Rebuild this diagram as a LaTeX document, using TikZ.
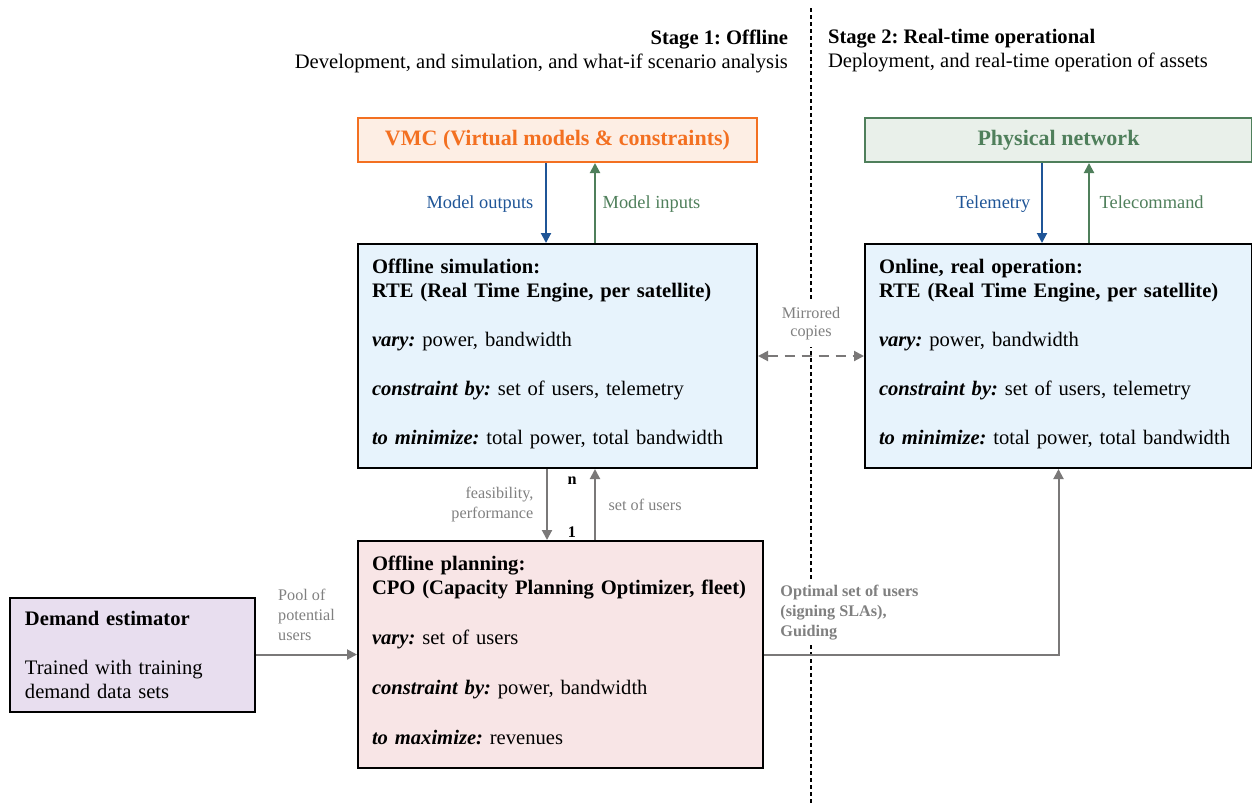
\documentclass[tikz,border=0pt]{standalone}
\usepackage{fontspec}
\setmainfont{Liberation Serif}
\usetikzlibrary{positioning,arrows.meta}
\frenchspacing

\definecolor{vmcorange}{HTML}{F37021}
\definecolor{vmcfill}{HTML}{FDEEE4}
\definecolor{netgreen}{HTML}{4F7F5B}
\definecolor{netfill}{HTML}{E9F0EA}
\definecolor{tmblue}{HTML}{1F5597}
\definecolor{simfill}{HTML}{E7F3FC}
\definecolor{planfill}{HTML}{F8E5E6}
\definecolor{demfill}{HTML}{E8DEEF}
\definecolor{flowgray}{HTML}{7A7878}
\definecolor{lblgray}{HTML}{808080}

\newcommand{\kw}[1]{{\bfseries\itshape #1}}

\begin{document}
\begin{tikzpicture}[x=0.5pt, y=-0.5pt,
    every node/.style={font=\fontsize{10.3}{12}\selectfont},
    box/.style={draw, line width=1pt, align=left, inner xsep=7pt, inner ysep=0pt, anchor=north west},
    head/.style={draw, line width=1pt, minimum height=22pt, anchor=north west,
                 font=\fontsize{11}{13}\selectfont\bfseries},
    flow/.style={line width=1pt, -{Triangle[length=5pt,width=5pt]}},
    lbl/.style={font=\fontsize{9.2}{11}\selectfont, text height=1.5ex, text depth=.3ex},
    small/.style={font=\fontsize{8.1}{10}\selectfont, text=lblgray},
    tri/.tip={Triangle[length=5pt,width=5pt]}
  ]
  \useasboundingbox (0,0) rectangle (1252,805);

  % stage divider
  \coordinate (divtop) at (811,8);
  \coordinate (divbot) at (811,805);
  \draw[line width=0.7pt, dash pattern=on 2pt off 1.5pt] (divtop) -- (divbot);

  \node[align=right, anchor=east] (st1) at (795,51)
    {\textbf{Stage 1: Offline}\\Development, and simulation, and what-if scenario analysis};
  \node[align=left, anchor=west] (st2) at (821,51)
    {\textbf{Stage 2: Real-time operational}\\Deployment, and real-time operation of assets};

  % top boxes
  \node[head, draw=vmcorange, fill=vmcfill, text=vmcorange, minimum width=199.5pt]
    (vmc) at (357,117) {VMC (Virtual models \& constraints)};
  \node[head, draw=netgreen, fill=netfill, text=netgreen, minimum width=193.5pt]
    (net) at (864,117) {Physical network};

  % engines
  \node[box, fill=simfill, minimum width=199.5pt, text width=185.5pt, minimum height=112pt,
        text depth=90pt] (sim) at (357,243)
    {\textbf{Offline simulation:}\\\textbf{RTE (Real Time Engine, per satellite)}\\[12.5pt]
     \kw{vary:} power, bandwidth\\[12.5pt]
     \kw{constraint by:} set of users, telemetry\\[12.5pt]
     \kw{to minimize:} total power, total bandwidth};
  \node[box, fill=simfill, minimum width=193.5pt, text width=179.5pt, minimum height=112pt,
        text depth=90pt] (onl) at (864,243)
    {\textbf{Online, real operation:}\\\textbf{RTE (Real Time Engine, per satellite)}\\[12.5pt]
     \kw{vary:} power, bandwidth\\[12.5pt]
     \kw{constraint by:} set of users, telemetry\\[12.5pt]
     \kw{to minimize:} total power, total bandwidth};

  % planning
  \node[box, fill=planfill, minimum width=202.5pt, text width=188.5pt, minimum height=113.5pt,
        text depth=91.5pt] (plan) at (357,540)
    {\textbf{Offline planning:}\\\textbf{CPO (Capacity Planning Optimizer, fleet)}\\[13pt]
     \kw{vary:} set of users\\[13pt]
     \kw{constraint by:} power, bandwidth\\[13pt]
     \kw{to maximize:} revenues};
  \node[box, fill=demfill, inner xsep=7.5pt, minimum width=122.5pt, text width=107.5pt,
        minimum height=57pt, left=50.5pt of plan.west, anchor=east] (dem)
    {\textbf{Demand estimator}\\[12.5pt]
     Trained with training\\demand data sets};

  % vmc <-> sim
  \draw[flow, tmblue] ([xshift=-5.75pt]vmc.south) --
    node[lbl, left=2.5pt, text=tmblue] (mout) {Model outputs} ([xshift=-5.75pt]sim.north);
  \draw[flow, netgreen] ([xshift=18.75pt]sim.north) --
    node[lbl, right=0pt, text=netgreen] (minp) {Model inputs} ([xshift=18.75pt]vmc.south);

  % net <-> onl
  \draw[flow, tmblue] ([xshift=-8.25pt]net.south) --
    node[lbl, left=2pt, text=tmblue] (tmy) {Telemetry} ([xshift=-8.25pt]onl.north);
  \draw[flow, netgreen] ([xshift=15.25pt]onl.north) --
    node[lbl, right=1.5pt, text=netgreen] (tcd) {Telecommand} ([xshift=15.25pt]net.south);

  % mirrored copies
  \draw[line width=1pt, flowgray, dash pattern=on 5pt off 3.5pt, tri-tri] (sim.east) --
    node[small, above=4pt, fill=white, align=center, font=\fontsize{8.1}{9}\selectfont]
    (mir) {Mirrored\\copies} (onl.west);

  % sim <-> plan
  \draw[flow, flowgray] ([xshift=-5.25pt]sim.south) --
    node[small, left=3pt, align=right] (feas) {feasibility,\\performance}
    ([xshift=-5.25pt]sim.south |- plan.north);
  \draw[flow, flowgray] ([xshift=18.75pt]sim.south |- plan.north) --
    node[small, right=3pt] (sou) {set of users} ([xshift=18.75pt]sim.south);
  \node[font=\fontsize{8.1}{10}\selectfont\bfseries] (nlbl) at ([xshift=7.25pt,yshift=-6pt]sim.south) {n};
  \node[font=\fontsize{8.1}{10}\selectfont\bfseries] (onelbl) at ([xshift=5.75pt,yshift=4pt]plan.north) {1};

  % demand -> plan
  \draw[flow, flowgray] (dem.east) --
    node[small, above=3pt, align=left] (pool) {Pool of\\potential\\users} (dem.east -| plan.west);

  % plan -> onl
  \draw[flow, flowgray] (plan.east) -| (onl.south);
  \node[small, font=\fontsize{8.1}{10}\selectfont\bfseries, align=left, fill=white,
        anchor=south west, inner sep=2pt] (opt) at ([xshift=6pt,yshift=5pt]plan.east)
    {Optimal set of users\\(signing SLAs),\\Guiding};
\end{tikzpicture}
\end{document}
